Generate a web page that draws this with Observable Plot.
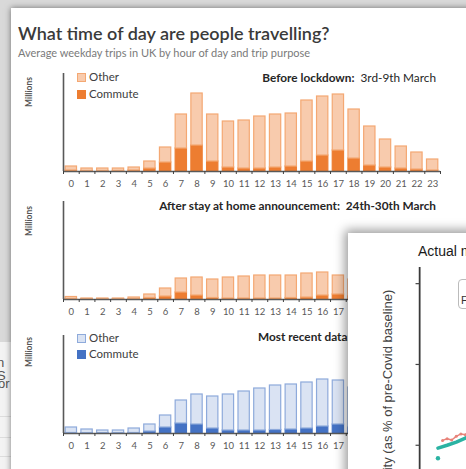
<!DOCTYPE html>
<html>
<head>
<meta charset="utf-8">
<script src="https://cdn.jsdelivr.net/npm/d3@7"></script>
<script src="https://cdn.jsdelivr.net/npm/@observablehq/plot@0.6"></script>
<style>
  html, body { margin: 0; padding: 0; }
  body { width: 466px; height: 469px; position: relative; overflow: hidden; background: #d9d9d9; font-family: Lato, "Open Sans", sans-serif; }
  .abs { position: absolute; }
  #backwin { left: 0; top: 342px; width: 14px; height: 130px; background: #f3f3f3; overflow: hidden; font: 13px/13px Arial, sans-serif; color: #555; }
  #main { left: 11px; top: 8px; width: 470px; height: 470px; background: #fff; box-shadow: 0 0 6px rgba(0,0,0,0.5); }
  #title { left: 18px; top: 22px; font-size: 18px; font-weight: 600; color: #3a3a3a; white-space: nowrap; }
  #subtitle { left: 18px; top: 46px; font-size: 11px; color: #7a7a7a; white-space: nowrap; }
  .ptitle { font-size: 11.8px; color: #262626; white-space: nowrap; text-align: right; right: 30px; }
  .millions { font-size: 8.5px; font-weight: 700; color: #555; transform: rotate(-90deg); transform-origin: center; white-space: nowrap; width: 50px; text-align: center; }
  .legend { font-size: 11.5px; color: #404040; line-height: 17px; }
  .sw { display: inline-block; width: 9px; height: 9px; margin-right: 3px; vertical-align: -1px; box-sizing: border-box; }
  #overlay { left: 348px; top: 233px; width: 140px; height: 260px; background: #fff; box-shadow: -3px -3px 10px rgba(0,0,0,0.4); z-index: 5; }
</style>
</head>
<body>
<script>
// Hour-of-day categories and tick labels
const hours = d3.range(0, 24);
const hourLabels = hours.map(String);

// Average weekday trips (millions) by hour, split by trip purpose
const beforeOther   = [0.4, 0.25, 0.25, 0.25, 0.3, 0.7, 1.5, 3.4, 5.2, 4.7, 4.6, 4.8, 5.2, 5.3, 5.3, 6.1, 5.9, 5.6, 4.9, 3.9, 2.8, 2.2, 1.7, 1.1];
const beforeCommute = [0.1, 0.05, 0.05, 0.05, 0.1, 0.3, 0.9, 2.3, 2.6, 1.0, 0.4, 0.3, 0.3, 0.4, 0.5, 1.0, 1.6, 2.1, 1.3, 0.6, 0.4, 0.3, 0.2, 0.1];

const afterOther    = [0.2, 0.08, 0.08, 0.08, 0.15, 0.35, 0.8, 1.4, 1.8, 1.85, 2.1, 2.2, 2.3, 2.3, 2.25, 2.4, 2.3, 1.9, 1.7, 1.4, 0.95, 0.75, 0.57, 0.38];
const afterCommute  = [0.05, 0.02, 0.02, 0.02, 0.05, 0.15, 0.3, 0.7, 0.4, 0.15, 0.1, 0.1, 0.1, 0.1, 0.15, 0.2, 0.4, 0.5, 0.3, 0.1, 0.05, 0.05, 0.03, 0.02];

const recentOther   = [0.55, 0.37, 0.27, 0.27, 0.45, 0.7, 1.2, 2.3, 3.0, 3.2, 3.6, 3.9, 4.2, 4.45, 4.5, 4.6, 4.7, 4.4, 4.0, 3.3, 2.4, 1.9, 1.4, 0.95];
const recentCommute = [0.05, 0.03, 0.03, 0.03, 0.05, 0.2, 0.6, 1.0, 0.9, 0.5, 0.3, 0.3, 0.3, 0.35, 0.4, 0.5, 0.7, 0.9, 0.6, 0.3, 0.2, 0.1, 0.1, 0.05];

// Mobility series for the second window (days, % of baseline)
const trendDays = [4, 6, 8, 10, 12, 14];
const trendValues = [19.3, 20, 20.8, 21.8, 22.6, 23.5];
const actualDays = [5, 6, 7, 8, 9, 10, 11, 12];
const actualValues = [21.2, 21.6, 21.3, 22.2, 22.8, 22.6, 23.6, 24.2];
const firstDay = [4];
const firstValue = [16.8];
const mobilityTicks = [20, 40, 60];
const mobilityRange = [14, 64];

const orange = { other: "#f8cbad", otherStroke: "#f4a873", commute: "#ed7d31" };
const blue   = { other: "#dae3f3", otherStroke: "#8eaadb", commute: "#4472c4" };

function el(tag, cls, html, style) {
  const e = document.createElement(tag);
  e.className = cls;
  if (html != null) e.innerHTML = html;
  Object.assign(e.style, style || {});
  document.body.appendChild(e);
  return e;
}

el("div", "abs", `<div style="position:absolute;left:-3px;top:14px">n S</div><div style="position:absolute;left:-2px;top:35px">or</div>
  <div style="position:absolute;left:0;top:74px;width:14px;border-top:1px solid #ddd"></div>
  <div style="position:absolute;left:0;top:95px;width:14px;border-top:1px solid #ddd"></div>
  <div style="position:absolute;left:0;top:114px;width:14px;border-top:1px solid #ddd"></div>`).id = "backwin";
el("div", "abs").id = "main";
el("div", "abs", "What time of day are people travelling?").id = "title";
el("div", "abs", "Average weekday trips in UK by hour of day and trip purpose").id = "subtitle";

function panel(other, commute, colors, top, marginTop) {
  const rows = [];
  hours.forEach((h, i) => {
    rows.push({ hour: h, purpose: "Commute", value: commute[i] });
    rows.push({ hour: h, purpose: "Other", value: other[i] });
  });
  const chart = Plot.plot({
    width: 466,
    height: 140,
    marginLeft: 63,
    marginRight: 26,
    marginTop,
    marginBottom: 140 - marginTop - 98,
    style: { fontFamily: "Lato, sans-serif", background: "transparent", overflow: "visible" },
    x: { domain: [-0.5, 23.5], axis: null },
    y: { domain: [0, 9.8], axis: null },
    marks: [
      Plot.rectY(rows, Plot.stackY({
        x1: d => d.hour - 0.5,
        x2: d => d.hour + 0.5,
        y: "value",
        order: ["Commute", "Other"],
        z: "purpose",
        fill: d => d.purpose === "Commute" ? colors.commute : colors.other,
        stroke: d => d.purpose === "Commute" ? colors.commute : colors.otherStroke,
        strokeWidth: 1.2,
        insetLeft: 2.2,
        insetRight: 2.2
      })),
      Plot.ruleY([0], { stroke: "#595959", strokeWidth: 1.6 }),
      Plot.ruleX([-0.5], { stroke: "#595959", strokeWidth: 1.6 }),
      Plot.axisX(d3.range(-0.5, 24, 1), { tickSize: 3, stroke: "#404040", tickFormat: () => "", label: null }),
      Plot.axisX(hours, { tickSize: 0, tickPadding: 9, tickFormat: i => hourLabels[i], fontSize: 9.5, fill: "#595959", label: null })
    ]
  });
  chart.style.position = "absolute";
  chart.style.left = "0px";
  chart.style.top = top + "px";
  chart.style.maxWidth = "none";
  document.body.appendChild(chart);
}

panel(beforeOther, beforeCommute, orange, 60, 13);
panel(afterOther, afterCommute, orange, 190, 11);
panel(recentOther, recentCommute, blue, 320, 15);

el("div", "abs ptitle", "<b>Before lockdown:</b>&nbsp; 3rd-9th March", { top: "70px" });
el("div", "abs ptitle", "<b>After stay at home announcement:&nbsp; 24th-30th March</b>", { top: "198px" });
el("div", "abs ptitle", "<b>Most recent data:&nbsp; 11th-15th May</b>", { top: "329px" });

[93, 222, 353].forEach(y => el("div", "abs millions", "Millions", { left: "4px", top: (y - 6) + "px" }));

el("div", "abs legend", `<div><span class="sw" style="background:${orange.other};border:1px solid ${orange.otherStroke}"></span>Other</div>
  <div><span class="sw" style="background:${orange.commute}"></span>Commute</div>`, { left: "77px", top: "68px" });
el("div", "abs legend", `<div><span class="sw" style="background:${blue.other};border:1px solid ${blue.otherStroke}"></span>Other</div>
  <div><span class="sw" style="background:${blue.commute}"></span>Commute</div>`, { left: "77px", top: "330px", lineHeight: "16px" });

// Second window: mobility relative to the pre-Covid baseline
const overlay = el("div", "abs");
overlay.id = "overlay";

const otitle = document.createElement("div");
otitle.textContent = "Actual mobility";
Object.assign(otitle.style, { position: "absolute", left: "70px", top: "10px", font: "14px Arial, sans-serif", color: "#1a1a1a", whiteSpace: "nowrap" });
overlay.appendChild(otitle);

const olabel = document.createElement("div");
olabel.textContent = "Mobility (as % of pre-Covid baseline)";
Object.assign(olabel.style, { position: "absolute", left: "-81px", top: "155px", width: "240px", height: "15px", lineHeight: "15px", textAlign: "center", font: "13px Arial, sans-serif", color: "#444", whiteSpace: "nowrap", transform: "rotate(-90deg)" });
overlay.appendChild(olabel);

const obox = document.createElement("div");
obox.textContent = "F";
Object.assign(obox.style, { position: "absolute", left: "110px", top: "46px", width: "60px", height: "30px", border: "1px solid #bbb", borderRadius: "4px", font: "11px Arial, sans-serif", color: "#333", padding: "14px 0 0 2px", boxSizing: "border-box" });
overlay.appendChild(obox);

// The plot goes on top of the window's text so its axis stays visible
const mobility = Plot.plot({
  width: 320,
  height: 236,
  marginLeft: 62,
  marginRight: 20,
  marginTop: 34,
  marginBottom: 0,
  style: { fontFamily: "Arial, sans-serif", background: "transparent", overflow: "visible" },
  x: { domain: [-2, 50], axis: null },
  y: { domain: mobilityRange, axis: null },
  marks: [
    Plot.ruleX([0], { stroke: "#3a3a3a", strokeWidth: 1.8 }),
    Plot.link(mobilityTicks, { x1: -0.9, x2: 0, y1: d => d, y2: d => d, stroke: "#444", strokeWidth: 1.2 }),
    Plot.line(actualDays.map((d, i) => ({ d, v: actualValues[i] })), { x: "d", y: "v", stroke: "#e8837a", strokeWidth: 1.5 }),
    Plot.dot(actualDays.map((d, i) => ({ d, v: actualValues[i] })), { x: "d", y: "v", fill: "#e8837a", r: 1.5 }),
    Plot.line(trendDays.map((d, i) => ({ d, v: trendValues[i] })), { x: "d", y: "v", stroke: "#2bb3a3", strokeWidth: 3.5 }),
    Plot.dot(firstDay.map((d, i) => ({ d, v: firstValue[i] })), { x: "d", y: "v", fill: "#2bb3a3", r: 2.2 })
  ]
});
Object.assign(mobility.style, { position: "absolute", left: "0px", top: "0px", maxWidth: "none", zIndex: "2" });
overlay.appendChild(mobility);
</script>
</body>
</html>
